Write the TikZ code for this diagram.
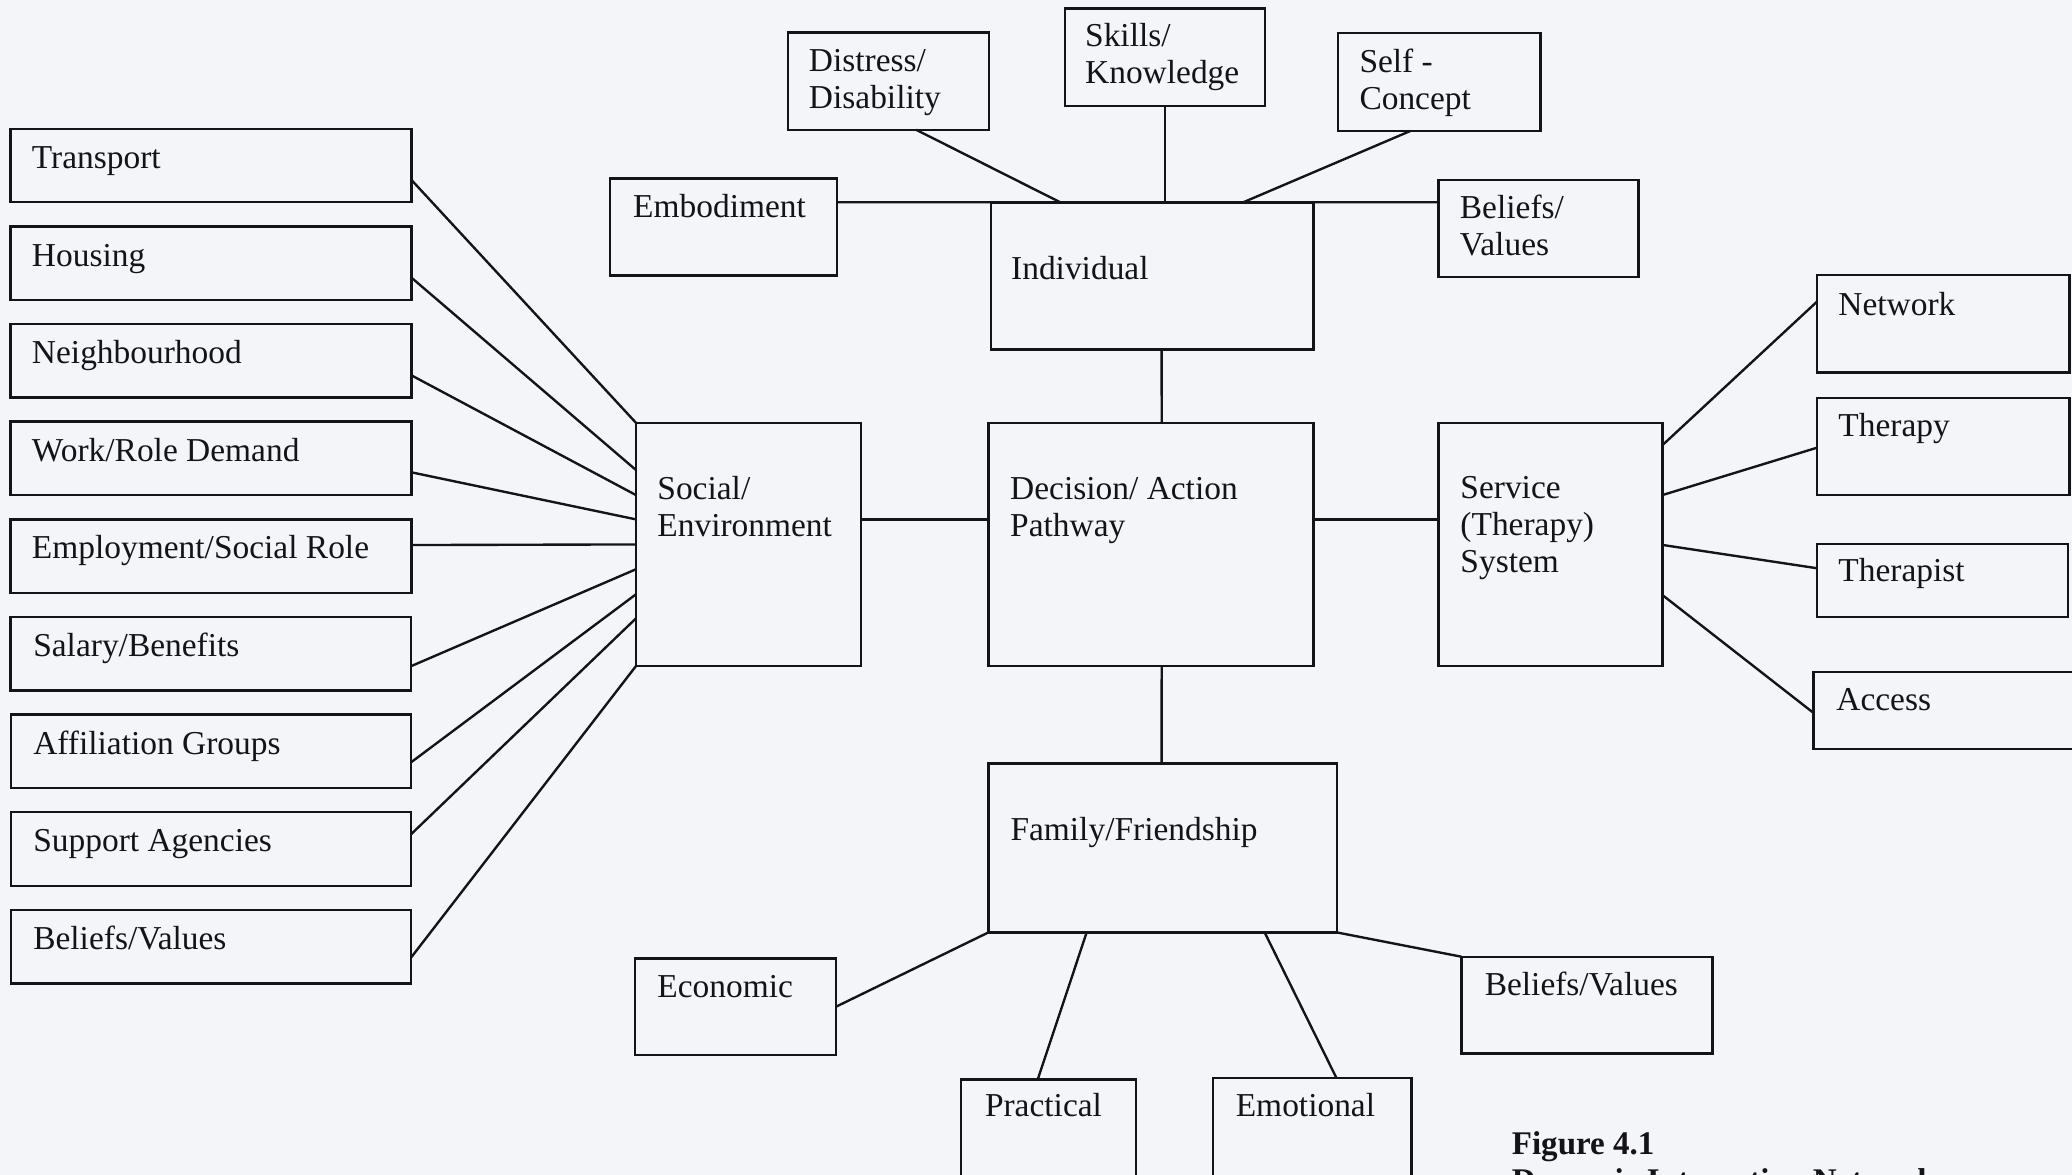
\documentclass[tikz,border=0pt]{standalone}
\usepackage{fontspec}
\setmainfont{Liberation Serif}
\usetikzlibrary{calc}
\definecolor{paper}{RGB}{243,245,248}
\definecolor{ink}{RGB}{20,20,24}
% box named #1 with top-left corner (#2,#3) and bottom-right corner (#4,#5)
\newcommand\mkbox[5]{\node[box,anchor=north west,minimum width={(#4-#2)*1pt},minimum height={(#5-#3)*1pt}] (#1) at (#2,#3) {};}
% left-aligned lines whose baseline is the first line's baseline
\newcommand\stack[1]{\begin{tabular}[t]{@{}l@{}}#1\end{tabular}}
\tikzset{
  box/.style={draw=ink, line width=1.8pt, inner sep=0pt, outer sep=0pt},
  lbl/.style={anchor=base west, inner sep=0pt, text=ink, font=\fontsize{25.3}{28}\selectfont},
  captext/.style={lbl, font=\fontsize{25}{28}\selectfont\bfseries},
  link/.style={draw=ink, line width=1.8pt},
}
\begin{document}
\begin{tikzpicture}[x=1pt,y=-1pt]
\useasboundingbox (0,0) rectangle (1568,889);
\fill[paper] (0,0) rectangle (1568,889);

% ---- environmental factors (left column)
\mkbox{transport}{8}{97.4}{311.5}{153.0}
\mkbox{housing}{8}{171.3}{311.5}{226.9}
\mkbox{neighbourhood}{8}{245.2}{311.5}{300.8}
\mkbox{work}{8}{319.1}{311.5}{374.7}
\mkbox{employment}{8}{393.0}{311.5}{448.6}
\mkbox{salary}{8}{466.9}{311}{522.5}
\mkbox{affiliation}{8.5}{540.8}{311}{596.4}
\mkbox{support}{8.5}{614.7}{311}{670.3}
\mkbox{beliefsB}{8.5}{688.6}{311}{744.2}
\node[lbl] (transport-t) at (24,127.4) {Transport};
\node[lbl] (housing-t) at (24,201.3) {Housing};
\node[lbl] (neighbourhood-t) at (24,275.2) {Neighbourhood};
\node[lbl] (work-t) at (24,349.1) {Work/Role Demand};
\node[lbl] (employment-t) at (24,423.0) {Employment/Social Role};
\node[lbl] (salary-t) at (25,496.9) {Salary/Benefits};
\node[lbl] (affiliation-t) at (25,570.8) {Affiliation Groups};
\node[lbl] (support-t) at (25,644.7) {Support Agencies};
\node[lbl] (beliefsB-t) at (25,718.6) {Beliefs/Values};

% ---- individual cluster (top)
\mkbox{distress}{596.4}{24.5}{748.5}{98.2}
\mkbox{skills}{805.7}{6.3}{957.3}{80.2}
\mkbox{selfc}{1012.6}{25.2}{1165.9}{99.1}
\mkbox{embodiment}{461.7}{135.0}{633.3}{208.6}
\mkbox{individual}{750}{153.4}{994}{264.4}
\mkbox{beliefsA}{1088.7}{136.2}{1240}{209.4}
\node[lbl] (distress-t) at (612,54.2) {\stack{Distress/\\Disability}};
\node[lbl] (skills-t) at (821,35.3) {\stack{Skills/\\Knowledge}};
\node[lbl] (selfc-t) at (1028.6,55) {\stack{Self -\\Concept}};
\node[lbl] (embodiment-t) at (479,164.5) {Embodiment};
\node[lbl] (individual-t) at (765,211.4) {Individual};
\node[lbl] (beliefsA-t) at (1104.6,165.2) {\stack{Beliefs/\\Values}};

% ---- central row
\mkbox{social}{481.3}{320}{651.6}{504}
\mkbox{decision}{748}{320}{994}{504}
\mkbox{service}{1088.5}{320}{1258}{504}
\node[lbl] (social-t) at (497.3,377.9) {\stack{Social/\\Environment}};
\node[lbl] (decision-t) at (764.3,377.9) {\stack{Decision/ Action\\Pathway}};
\node[lbl] (service-t) at (1105,377.1) {\stack{Service\\(Therapy)\\System}};

% ---- service factors (right column)
\mkbox{network}{1375}{208}{1566}{282}
\mkbox{therapy}{1375}{301.4}{1566}{374.6}
\mkbox{therapist}{1375}{411.7}{1565}{466.7}
\mkbox{access}{1372.5}{508.3}{1575}{567}
\node[lbl] (network-t) at (1391,238.4) {Network};
\node[lbl] (therapy-t) at (1391,330.5) {Therapy};
\node[lbl] (therapist-t) at (1391,440.2) {Therapist};
\node[lbl] (access-t) at (1389.5,537.3) {Access};

% ---- family cluster (bottom)
\mkbox{family}{748}{577.7}{1011.6}{705.6}
\mkbox{economic}{480.3}{725.2}{632.7}{798.4}
\mkbox{practical}{727.4}{816.8}{859.7}{890}
\mkbox{emotional}{917.7}{816}{1068.2}{890}
\mkbox{beliefsC}{1106}{724}{1296}{797.1}
\node[lbl] (family-t) at (764.5,635.7) {Family/Friendship};
\node[lbl] (economic-t) at (497.3,754.8) {Economic};
\node[lbl] (practical-t) at (745.2,845) {Practical};
\node[lbl] (emotional-t) at (935,845) {Emotional};
\node[lbl] (beliefsC-t) at (1123.4,753) {Beliefs/Values};

% ---- connectors: environment fan
\draw[link] ($(transport.north east)!0.70!(transport.south east)$) -- (social.north west);
\draw[link] ($(housing.north east)!0.70!(housing.south east)$) -- ($(social.north west)!0.194!(social.south west)$);
\draw[link] ($(neighbourhood.north east)!0.70!(neighbourhood.south east)$) -- ($(social.north west)!0.297!(social.south west)$);
\draw[link] ($(work.north east)!0.69!(work.south east)$) -- ($(social.north west)!0.397!(social.south west)$);
\draw[link] ($(employment.north east)!0.35!(employment.south east)$) -- ($(social.north west)!0.50!(social.south west)$);
\draw[link] ($(salary.north east)!0.67!(salary.south east)$) -- ($(social.north west)!0.602!(social.south west)$);
\draw[link] ($(affiliation.north east)!0.65!(affiliation.south east)$) -- ($(social.north west)!0.705!(social.south west)$);
\draw[link] ($(support.north east)!0.30!(support.south east)$) -- ($(social.north west)!0.804!(social.south west)$);
\draw[link] ($(beliefsB.north east)!0.65!(beliefsB.south east)$) -- (social.south west);

% ---- connectors: individual cluster
\draw[link] ($(embodiment.north east)!0.245!(embodiment.south east)$) -- ($(beliefsA.north west)!0.23!(beliefsA.south west)$);
\draw[link] ($(distress.south west)!0.637!(distress.south east)$) -- ($(individual.north west)!0.217!(individual.north east)$);
\draw[link] (skills.south) -- (skills.south |- individual.north);
\draw[link] ($(selfc.south west)!0.357!(selfc.south east)$) -- ($(individual.north west)!0.779!(individual.north east)$);

% ---- connectors: spine and central row
\draw[link] ($(individual.south west)!0.529!(individual.south east)$) -- ($(decision.north west)!0.533!(decision.north east)$);
\draw[link] ($(decision.south west)!0.533!(decision.south east)$) -- ($(family.north west)!0.497!(family.north east)$);
\draw[link] ($(social.north east)!0.397!(social.south east)$) -- ($(decision.north west)!0.397!(decision.south west)$);
\draw[link] ($(decision.north east)!0.397!(decision.south east)$) -- ($(service.north west)!0.397!(service.south west)$);

% ---- connectors: service fan
\draw[link] ($(service.north east)!0.092!(service.south east)$) -- ($(network.north west)!0.274!(network.south west)$);
\draw[link] ($(service.north east)!0.297!(service.south east)$) -- ($(therapy.north west)!0.511!(therapy.south west)$);
\draw[link] ($(service.north east)!0.502!(service.south east)$) -- ($(therapist.north west)!0.333!(therapist.south west)$);
\draw[link] ($(service.north east)!0.708!(service.south east)$) -- ($(access.north west)!0.533!(access.south west)$);

% ---- connectors: family fan
\draw[link] (family.south west) -- (economic.east);
\draw[link] ($(family.south west)!0.282!(family.south east)$) -- ($(practical.north west)!0.438!(practical.north east)$);
\draw[link] ($(family.south west)!0.793!(family.south east)$) -- ($(emotional.north west)!0.623!(emotional.north east)$);
\draw[link] (family.south east) -- (beliefsC.north west);

% ---- caption
\node[captext] (fig-num) at (1143.9,874) {Figure 4.1};
\node[captext] (fig-title) at (1143.9,902) {Dynamic Interaction Network};
\end{tikzpicture}
\end{document}
